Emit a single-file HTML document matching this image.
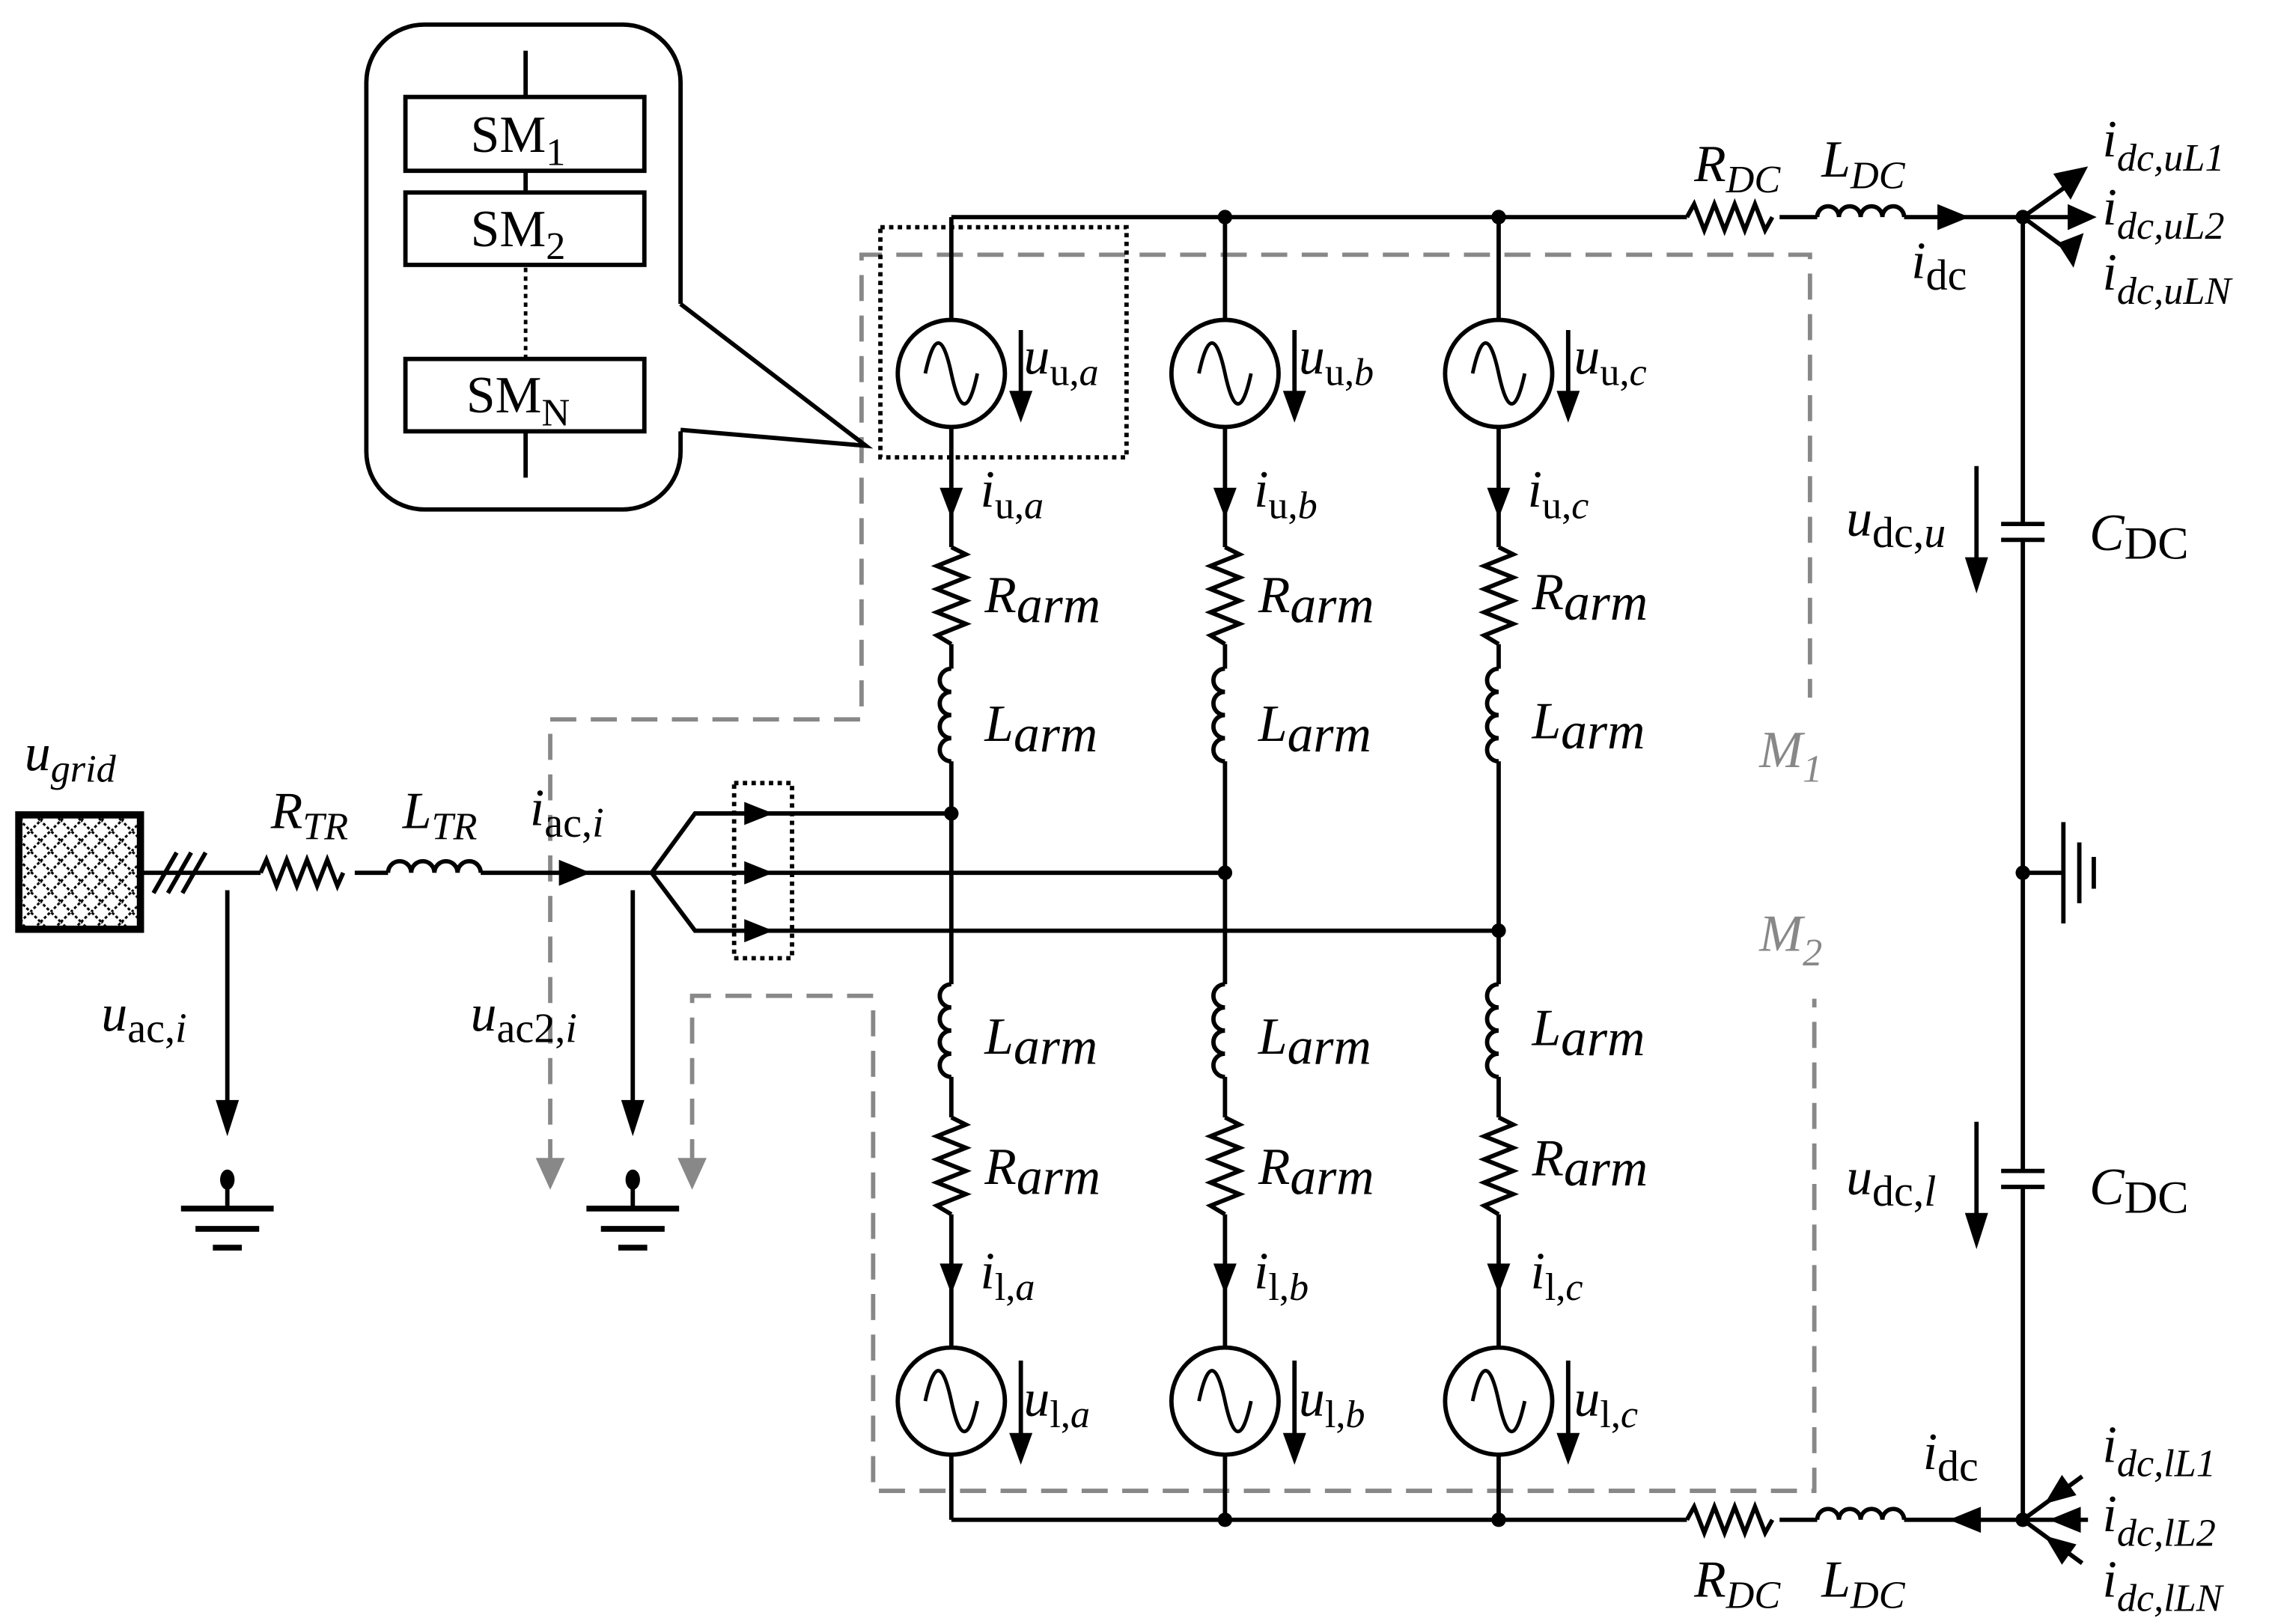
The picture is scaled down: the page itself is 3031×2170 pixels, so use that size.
<!DOCTYPE html>
<html><head><meta charset="utf-8"><style>
html,body{margin:0;padding:0;background:#fff}
svg{display:block}
text{font-family:"Liberation Serif",serif;font-size:36px;fill:#000}
.it{font-style:italic}
.sub{font-size:27px}
.g{fill:#888}
</style></head><body>
<svg width="3031" height="2170" viewBox="0 0 1567 1122" preserveAspectRatio="none" xmlns="http://www.w3.org/2000/svg">
<defs>
<pattern id="hatch" width="14" height="14" patternUnits="userSpaceOnUse">
<path d="M0 7 L7 0 L14 7 L7 14 Z" fill="none" stroke="#000" stroke-width="1.6" stroke-dasharray="2 1.5"/>
</pattern>
<g id="col" fill="none" stroke="#000" stroke-width="3">
<line x1="0" y1="150" x2="0" y2="221"/>
<circle cx="0" cy="258" r="37"/>
<path d="M-18 258 C-12 230 -6 230 0 258 S12 286 18 258" stroke-width="2.5"/>
<line x1="0" y1="295" x2="0" y2="378"/>
<path d="M0 378 l10 5 l-20 8 l20 8 l-20 8 l20 8 l-20 8 l20 8 l-20 8 l10 6"/>
<line x1="0" y1="445" x2="0" y2="462"/>
<path d="M0 462 a8 8 0 0 0 0 16 a8 8 0 0 0 0 16 a8 8 0 0 0 0 16 a8 8 0 0 0 0 16"/>
<line x1="0" y1="526" x2="0" y2="680"/>
<path d="M0 680 a8 8 0 0 0 0 16 a8 8 0 0 0 0 16 a8 8 0 0 0 0 16 a8 8 0 0 0 0 16"/>
<line x1="0" y1="744" x2="0" y2="772"/>
<path d="M0 772 l10 5 l-20 8 l20 8 l-20 8 l20 8 l-20 8 l20 8 l-20 8 l10 6"/>
<line x1="0" y1="839" x2="0" y2="931"/>
<circle cx="0" cy="968" r="37"/>
<path d="M-18 968 C-12 940 -6 940 0 968 S12 996 18 968" stroke-width="2.5"/>
<line x1="0" y1="1005" x2="0" y2="1050"/>
<polygon points="-8,337 8,337 0,358" fill="#000" stroke="none"/>
<polygon points="-8,873 8,873 0,894" fill="#000" stroke="none"/>
<line x1="48" y1="228" x2="48" y2="275"/>
<polygon points="40,270 56,270 48,292" fill="#000" stroke="none"/>
<line x1="48" y1="940" x2="48" y2="995"/>
<polygon points="40,990 56,990 48,1012" fill="#000" stroke="none"/>
</g>
<g id="gnd" stroke="#000" stroke-width="4" fill="#000">
<ellipse cx="0" cy="0" rx="5" ry="7" stroke="none"/>
<line x1="0" y1="0" x2="0" y2="20" stroke-width="3"/>
<line x1="-32" y1="20" x2="32" y2="20"/>
<line x1="-22" y1="34" x2="22" y2="34"/>
<line x1="-10" y1="47" x2="10" y2="47"/>
</g>
</defs>

<g fill="none" stroke="#888" stroke-width="3" stroke-dasharray="18 10">
<path d="M380 805 L380 497 L595 497 L595 176 L1250 176 L1250 482"/>
<path d="M478 805 L478 688 L603 688 L603 1030 L1253 1030 L1253 690"/>
</g>
<polygon points="370,800 390,800 380,822" fill="#888"/>
<polygon points="468,800 488,800 478,822" fill="#888"/>
<text x="1215" y="530" class="it g">M<tspan class="sub g" dy="10">1</tspan></text>
<text x="1215" y="657" class="it g">M<tspan class="sub g" dy="10">2</tspan></text>

<use href="#col" x="657"/>
<use href="#col" x="846"/>
<use href="#col" x="1035"/>

<g stroke="#000" stroke-width="3" fill="none">
<line x1="657" y1="150" x2="1165" y2="150"/>
<path d="M1165 150 l5 -9 l7 18 l7 -18 l7 18 l7 -18 l7 18 l7 -18 l7 18 l5 -9"/>
<line x1="1229" y1="150" x2="1255" y2="150"/>
<path d="M1255 150 a7.5 7.5 0 0 1 15 0 a7.5 7.5 0 0 1 15 0 a7.5 7.5 0 0 1 15 0 a7.5 7.5 0 0 1 15 0"/>
<line x1="1315" y1="150" x2="1397" y2="150"/>
<line x1="657" y1="1050" x2="1165" y2="1050"/>
<path d="M1165 1050 l5 -9 l7 18 l7 -18 l7 18 l7 -18 l7 18 l7 -18 l7 18 l5 -9"/>
<line x1="1229" y1="1050" x2="1255" y2="1050"/>
<path d="M1255 1050 a7.5 7.5 0 0 1 15 0 a7.5 7.5 0 0 1 15 0 a7.5 7.5 0 0 1 15 0 a7.5 7.5 0 0 1 15 0"/>
<line x1="1315" y1="1050" x2="1397" y2="1050"/>
<line x1="1397" y1="150" x2="1397" y2="362"/>
<line x1="1397" y1="373" x2="1397" y2="809"/>
<line x1="1397" y1="820" x2="1397" y2="1050"/>
<line x1="1382" y1="362" x2="1412" y2="362"/>
<line x1="1382" y1="373" x2="1412" y2="373"/>
<line x1="1382" y1="809" x2="1412" y2="809"/>
<line x1="1382" y1="820" x2="1412" y2="820"/>
<line x1="1397" y1="603" x2="1425" y2="603"/>
<line x1="1425" y1="568" x2="1425" y2="638"/>
<line x1="1436" y1="582" x2="1436" y2="624"/>
<line x1="1446" y1="592" x2="1446" y2="614"/>
<line x1="1397" y1="150" x2="1428" y2="128"/>
<line x1="1397" y1="150" x2="1432" y2="150"/>
<line x1="1397" y1="150" x2="1427" y2="172"/>
<line x1="1397" y1="1050" x2="1438" y2="1020"/>
<line x1="1397" y1="1050" x2="1442" y2="1050"/>
<line x1="1397" y1="1050" x2="1438" y2="1080"/>
<line x1="1365" y1="322" x2="1365" y2="395"/>
<line x1="1365" y1="775" x2="1365" y2="848"/>
<line x1="97" y1="603" x2="180" y2="603"/>
<line x1="106" y1="617" x2="122" y2="589"/>
<line x1="116" y1="617" x2="132" y2="589"/>
<line x1="126" y1="617" x2="142" y2="589"/>
<path d="M180 603 l4 -9 l7 18 l7 -18 l7 18 l7 -18 l7 18 l7 -18 l7 18 l4 -9"/>
<line x1="245" y1="603" x2="268" y2="603"/>
<path d="M268 603 a8 8 0 0 1 16 0 a8 8 0 0 1 16 0 a8 8 0 0 1 16 0 a8 8 0 0 1 16 0"/>
<line x1="332" y1="603" x2="450" y2="603"/>
<path d="M450 603 L480 562 L657 562"/>
<line x1="450" y1="603" x2="846" y2="603"/>
<path d="M450 603 L480 643 L1035 643"/>
<line x1="157" y1="615" x2="157" y2="765"/>
<line x1="437" y1="615" x2="437" y2="765"/>
<path d="M470 210 L470 57 A40 40 0 0 0 430 17 L293 17 A40 40 0 0 0 253 57 L253 312 A40 40 0 0 0 293 352 L430 352 A40 40 0 0 0 470 312 L470 298"/>
<path d="M470 210 L598 308 L470 297"/>
<line x1="363" y1="35" x2="363" y2="67"/>
<line x1="363" y1="118" x2="363" y2="133"/>
<line x1="363" y1="298" x2="363" y2="330"/>
<rect x="280" y="67" width="165" height="51"/>
<rect x="280" y="133" width="165" height="50"/>
<rect x="280" y="248" width="165" height="50"/>
</g>
<line x1="363" y1="185" x2="363" y2="248" stroke="#000" stroke-width="2.5" stroke-dasharray="3 3"/>
<rect x="608" y="157" width="170" height="159" fill="none" stroke="#000" stroke-width="3" stroke-dasharray="3 3"/>
<rect x="507" y="541" width="40" height="121" fill="none" stroke="#000" stroke-width="3" stroke-dasharray="3 3"/>
<rect x="13" y="563" width="84" height="79" fill="url(#hatch)" stroke="#000" stroke-width="5"/>

<g fill="#000">
<polygon points="1338,141 1338,159 1360,150"/>
<polygon points="1368,1041 1368,1059 1346,1050"/>
<polygon points="386,594 386,612 408,603"/>
<polygon points="514,554 514,570 534,562"/>
<polygon points="514,595 514,611 534,603"/>
<polygon points="514,635 514,651 534,643"/>
<polygon points="1357,385 1373,385 1365,410"/>
<polygon points="1357,838 1373,838 1365,863"/>
<polygon points="149,760 165,760 157,785"/>
<polygon points="429,760 445,760 437,785"/>
<polygon points="1418,120 1442,115 1430,138"/>
<polygon points="1428,141 1428,159 1448,150"/>
<polygon points="1421,168 1439,161 1432,185"/>
<polygon points="1412,1039 1434,1033 1424,1019"/>
<polygon points="1415,1050 1437,1041 1437,1059"/>
<polygon points="1412,1061 1424,1081 1434,1067"/>
<circle cx="846" cy="150" r="5"/><circle cx="1035" cy="150" r="5"/><circle cx="1397" cy="150" r="5"/>
<circle cx="846" cy="1050" r="5"/><circle cx="1035" cy="1050" r="5"/><circle cx="1397" cy="1050" r="5"/>
<circle cx="657" cy="562" r="5"/><circle cx="846" cy="603" r="5"/><circle cx="1035" cy="643" r="5"/>
<circle cx="1397" cy="603" r="5"/>
</g>
<use href="#gnd" x="157" y="815"/>
<use href="#gnd" x="437" y="815"/>

<text x="325" y="105">SM<tspan class="sub" dy="9">1</tspan></text>
<text x="325" y="170">SM<tspan class="sub" dy="9">2</tspan></text>
<text x="322" y="285">SM<tspan class="sub" dy="9">N</tspan></text>

<g>
<text x="707" y="258" class="it">u<tspan class="sub" dy="8" font-style="normal">u,</tspan><tspan class="sub">a</tspan></text>
<text x="897" y="258" class="it">u<tspan class="sub" dy="8" font-style="normal">u,</tspan><tspan class="sub">b</tspan></text>
<text x="1087" y="258" class="it">u<tspan class="sub" dy="8" font-style="normal">u,</tspan><tspan class="sub">c</tspan></text>
<text x="677" y="350" class="it">i<tspan class="sub" dy="8" font-style="normal">u,</tspan><tspan class="sub">a</tspan></text>
<text x="866" y="350" class="it">i<tspan class="sub" dy="8" font-style="normal">u,</tspan><tspan class="sub">b</tspan></text>
<text x="1055" y="350" class="it">i<tspan class="sub" dy="8" font-style="normal">u,</tspan><tspan class="sub">c</tspan></text>
<text x="680" y="423" class="it">R<tspan dy="7">arm</tspan></text>
<text x="869" y="423" class="it">R<tspan dy="7">arm</tspan></text>
<text x="1058" y="421" class="it">R<tspan dy="7">arm</tspan></text>
<text x="680" y="512" class="it">L<tspan dy="7">arm</tspan></text>
<text x="869" y="512" class="it">L<tspan dy="7">arm</tspan></text>
<text x="1058" y="510" class="it">L<tspan dy="7">arm</tspan></text>
<text x="680" y="728" class="it">L<tspan dy="7">arm</tspan></text>
<text x="869" y="728" class="it">L<tspan dy="7">arm</tspan></text>
<text x="1058" y="722" class="it">L<tspan dy="7">arm</tspan></text>
<text x="680" y="818" class="it">R<tspan dy="7">arm</tspan></text>
<text x="869" y="818" class="it">R<tspan dy="7">arm</tspan></text>
<text x="1058" y="812" class="it">R<tspan dy="7">arm</tspan></text>
<text x="677" y="890" class="it">i<tspan class="sub" dy="8" font-style="normal">l,</tspan><tspan class="sub">a</tspan></text>
<text x="866" y="890" class="it">i<tspan class="sub" dy="8" font-style="normal">l,</tspan><tspan class="sub">b</tspan></text>
<text x="1057" y="890" class="it">i<tspan class="sub" dy="8" font-style="normal">l,</tspan><tspan class="sub">c</tspan></text>
<text x="707" y="978" class="it">u<tspan class="sub" dy="8" font-style="normal">l,</tspan><tspan class="sub">a</tspan></text>
<text x="897" y="978" class="it">u<tspan class="sub" dy="8" font-style="normal">l,</tspan><tspan class="sub">b</tspan></text>
<text x="1087" y="978" class="it">u<tspan class="sub" dy="8" font-style="normal">l,</tspan><tspan class="sub">c</tspan></text>
</g>

<text x="1170" y="125" class="it">R<tspan class="sub" dy="8">DC</tspan></text>
<text x="1258" y="122" class="it">L<tspan class="sub" dy="8">DC</tspan></text>
<text x="1170" y="1103" class="it">R<tspan class="sub" dy="8">DC</tspan></text>
<text x="1258" y="1103" class="it">L<tspan class="sub" dy="8">DC</tspan></text>
<text x="1320" y="192" class="it">i<tspan dy="8" font-style="normal" font-size="30">dc</tspan></text>
<text x="1328" y="1015" class="it">i<tspan dy="8" font-style="normal" font-size="30">dc</tspan></text>
<text x="1275" y="370" class="it">u<tspan dy="8" font-style="normal" font-size="30">dc,</tspan><tspan font-size="30">u</tspan></text>
<text x="1275" y="825" class="it">u<tspan dy="8" font-style="normal" font-size="30">dc,</tspan><tspan font-size="30">l</tspan></text>
<text x="1443" y="380" class="it">C<tspan dy="6" font-style="normal" font-size="32">DC</tspan></text>
<text x="1443" y="832" class="it">C<tspan dy="6" font-style="normal" font-size="32">DC</tspan></text>
<text x="1452" y="108" class="it">i<tspan class="sub" dy="10">dc,uL1</tspan></text>
<text x="1452" y="155" class="it">i<tspan class="sub" dy="10">dc,uL2</tspan></text>
<text x="1452" y="200" class="it">i<tspan class="sub" dy="10">dc,uLN</tspan></text>
<text x="1452" y="1010" class="it">i<tspan class="sub" dy="10">dc,lL1</tspan></text>
<text x="1452" y="1058" class="it">i<tspan class="sub" dy="10">dc,lL2</tspan></text>
<text x="1452" y="1103" class="it">i<tspan class="sub" dy="10">dc,lLN</tspan></text>

<text x="17" y="532" class="it">u<tspan class="sub" dy="8">grid</tspan></text>
<text x="187" y="572" class="it">R<tspan class="sub" dy="8">TR</tspan></text>
<text x="278" y="572" class="it">L<tspan class="sub" dy="8">TR</tspan></text>
<text x="366" y="570" class="it">i<tspan dy="8" font-style="normal" font-size="29">ac,</tspan><tspan font-size="29">i</tspan></text>
<text x="70" y="712" class="it">u<tspan dy="8" font-style="normal" font-size="29">ac,</tspan><tspan font-size="29">i</tspan></text>
<text x="325" y="712" class="it">u<tspan dy="8" font-style="normal" font-size="29">ac2,</tspan><tspan font-size="29">i</tspan></text>
</svg>
</body></html>
